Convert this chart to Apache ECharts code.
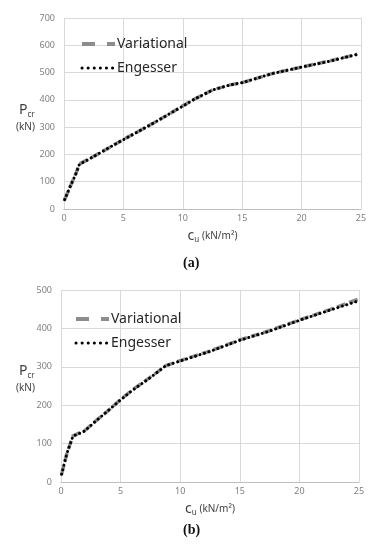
<!DOCTYPE html>
<html>
<head>
<meta charset="utf-8">
<script src="https://cdn.jsdelivr.net/npm/echarts@6/dist/echarts.min.js"></script>
<style>html,body{margin:0;padding:0;background:#fff}#c{width:383px;height:550px}</style>
</head>
<body>
<div id="c"></div>
<script>
// Panel (a)
const cuA = [0.05, 0.5, 1.0, 1.3, 2, 3, 4, 5, 6, 7.5, 9, 10, 11, 12.5, 14, 15, 17.5, 20, 22.5, 24.7];
const varA = [34, 80, 130, 165, 181, 205, 230, 255, 278, 314, 352, 378, 403, 436, 455, 463, 496, 520, 544, 567];
const engA = [34, 80, 129, 164, 180, 205, 230, 254, 278, 314, 352, 377, 403, 436, 455, 463, 496, 520, 543, 567];
// Panel (b)
const cuB = [0.05, 0.5, 1.0, 2, 3, 4, 5, 6, 7.5, 8.8, 10, 12.5, 15, 17.5, 20, 22.5, 25];
const varB = [20, 75, 120, 134, 161, 187, 215, 240, 273, 303, 316, 341, 370, 394, 422, 448, 477];
const engB = [20, 75, 119, 133, 161, 187, 214, 239, 272, 303, 315, 340, 369, 393, 421, 447, 472];
const xTicks = [0, 5, 10, 15, 20, 25];
const yMaxA = 700, yMaxB = 500;
const names = ['Variational', 'Engesser'];

const pairs = (xs, ys) => xs.map((x, i) => [x, ys[i]]);
const FONT = 'Noto Sans';
const gridColor = '#d9d9d9';
const labelColor = '#808080';
const VAR_STYLE = { color: '#8c8c8c', width: 3.5, type: [9, 4], cap: 'butt' };
const ENG_STYLE = { color: '#000000', width: 3, type: [0.1, 4.6], cap: 'round' };

function xAxis(gi) {
  return {
    type: 'value', gridIndex: gi, min: 0, max: 25, interval: 5,
    axisLine: { show: true, lineStyle: { color: '#bfbfbf', width: 1 } },
    axisTick: { show: false },
    splitLine: { show: true, lineStyle: { color: gridColor, width: 1 } },
    axisLabel: { color: labelColor, fontSize: 9, fontFamily: FONT, margin: 5 },
    name: '{c|c}{s|u}{n| (kN/m²)}', nameLocation: 'middle', nameGap: 19,
    nameTextStyle: {
      rich: {
        c: { fontSize: 14, color: '#404040', fontFamily: FONT },
        s: { fontSize: 8, color: '#404040', fontFamily: FONT, padding: [8, 0, 0, 0] },
        n: { fontSize: 10, color: '#404040', fontFamily: FONT }
      }
    }
  };
}
function yAxis(gi, max) {
  return {
    type: 'value', gridIndex: gi, min: 0, max: max, interval: 100,
    axisLine: { show: false }, axisTick: { show: false },
    splitLine: { show: true, lineStyle: { color: gridColor, width: 1 } },
    axisLabel: { color: labelColor, fontSize: 9, fontFamily: FONT, margin: 9 }
  };
}
function series(name, gi, data) {
  const isVar = name === 'Variational';
  return {
    name: name, type: 'line', xAxisIndex: gi, yAxisIndex: gi,
    data: data, showSymbol: false, symbol: 'none', smooth: false,
    z: isVar ? 2 : 3,
    itemStyle: { color: isVar ? '#8c8c8c' : '#000000' },
    lineStyle: isVar ? VAR_STYLE : ENG_STYLE
  };
}
function legend(left, top) {
  return {
    data: [
      { name: 'Variational', lineStyle: { width: 4, type: [13, 12], cap: 'butt', color: '#8c8c8c' } },
      { name: 'Engesser', lineStyle: { width: 3, type: [0.1, 6], cap: 'round', color: '#000' } }
    ],
    orient: 'vertical', left: left, top: top,
    itemWidth: 33, itemHeight: 10, itemGap: 10, selectedMode: false,
    itemStyle: { opacity: 0 },
    textStyle: { fontSize: 14, color: '#262626', fontFamily: FONT, padding: [0, 0, 0, -3] }
  };
}
function pLabel(x, y) {
  return [
    { type: 'text', left: x, top: y, style: { text: '{p|P}{s|cr}', rich: {
      p: { fontSize: 14, fill: '#404040', fontFamily: FONT },
      s: { fontSize: 8, fill: '#404040', fontFamily: FONT, padding: [9, 0, 0, 0] } } } },
    { type: 'text', left: x - 3, top: y + 19, style: { text: '(kN)', fontSize: 10, fill: '#404040', fontFamily: FONT } }
  ];
}

const chart = echarts.init(document.getElementById('c'), null, { renderer: 'canvas' });
chart.setOption({
  backgroundColor: '#fff',
  animation: false,
  grid: [
    { left: 64, right: 22, top: 18, bottom: 341, containLabel: false },
    { left: 61, right: 24, top: 290, bottom: 68, containLabel: false }
  ],
  xAxis: [xAxis(0), xAxis(1)],
  yAxis: [yAxis(0, yMaxA), yAxis(1, yMaxB)],
  legend: [legend(75, 32), legend(69, 307)],
  series: [
    series('Variational', 0, pairs(cuA, varA)),
    series('Engesser', 0, pairs(cuA, engA)),
    series('Variational', 1, pairs(cuB, varB)),
    series('Engesser', 1, pairs(cuB, engB))
  ],
  graphic: [
    ...pLabel(19, 103),
    ...pLabel(19, 364),
    { type: 'text', left: 183, top: 256, style: { text: '(a)', fontSize: 14, fill: '#111', fontFamily: 'Liberation Serif', fontWeight: 'bold' } },
    { type: 'text', left: 183, top: 523, style: { text: '(b)', fontSize: 14, fill: '#111', fontFamily: 'Liberation Serif', fontWeight: 'bold' } }
  ]
});
</script>
</body>
</html>
